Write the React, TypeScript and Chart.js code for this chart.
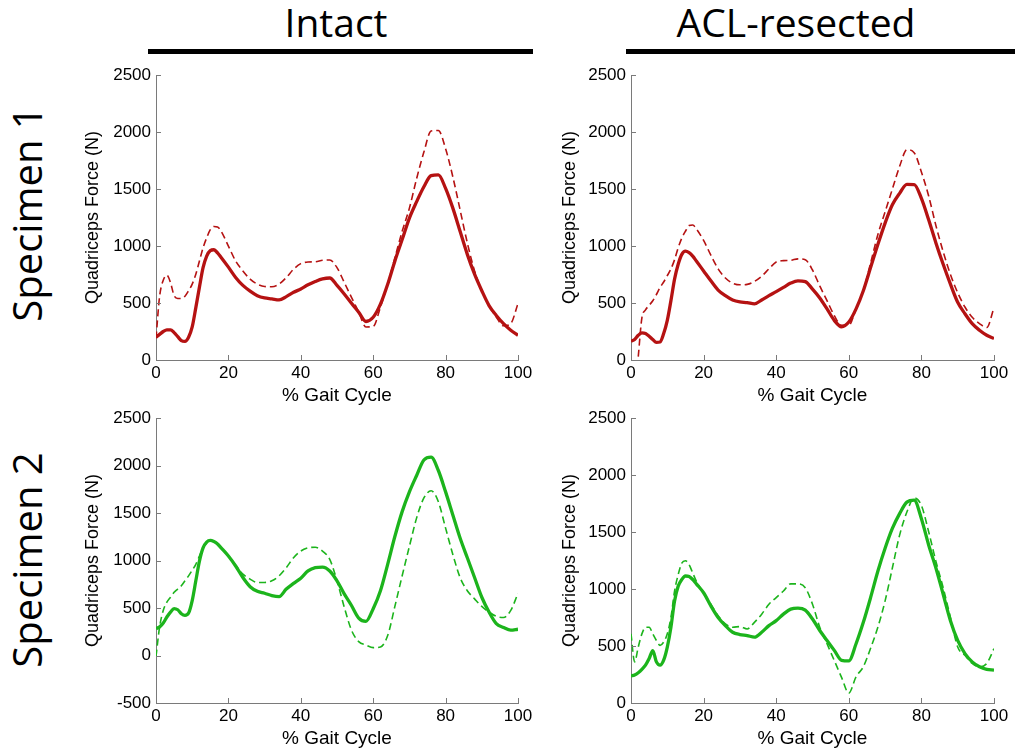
import React, { useEffect, useRef } from "react";
import { Chart, registerables } from "chart.js";

Chart.register(...registerables);

// % gait cycle sample positions (shared by all series)
const gaitPct = [0, 1, 2, 3, 4, 5, 6, 7, 8, 9, 10, 11, 12, 13, 14, 15, 16, 17, 18,
  20, 22, 24, 26, 28, 30, 32, 34, 36, 38, 40, 42, 44, 46, 48, 50, 52, 54, 56, 58,
  60, 62, 64, 66, 68, 70, 72, 74, 76, 78, 80, 82, 84, 86, 88, 90, 92, 94, 96, 98, 100];

const columnTitles = ["Intact", "ACL-resected"];
const rowTitles = ["Specimen 1", "Specimen 2"];
const xAxisTitle = "% Gait Cycle";
const yAxisTitle = "Quadriceps Force (N)";

// Specimen 1, intact (solid = measured, dashed = model)
const s1IntactSolid = [200, 225, 250, 265, 265, 240, 205, 170, 163, 200, 290, 460, 640, 810, 912, 960, 968, 940, 900,
  815, 725, 655, 605, 565, 545, 537, 528, 556, 594, 623, 660, 689, 712, 720, 655, 580, 498, 420, 338,
  375, 490, 665, 870, 1057, 1246, 1390, 1521, 1618, 1625, 1506, 1333, 1130, 927, 753, 608, 478, 391, 319, 261, 217];
const s1IntactDashed = [190, 560, 700, 745, 680, 565, 540, 540, 560, 608, 666, 753, 869, 985, 1072, 1144, 1172, 1168, 1130,
  1000, 869, 782, 710, 666, 645, 643, 666, 724, 797, 846, 860, 862, 875, 878, 811, 681, 550, 420, 290,
  295, 464, 666, 898, 1130, 1333, 1593, 1825, 2010, 2015, 1854, 1608, 1318, 1028, 782, 608, 478, 377, 300, 320, 495];

// Specimen 1, ACL-resected
const s1AclSolid = [165, 180, 217, 238, 232, 209, 180, 155, 158, 232, 348, 521, 710, 840, 927, 955, 942, 912, 869,
  782, 695, 614, 565, 527, 510, 504, 492, 527, 565, 600, 637, 675, 695, 688, 623, 545, 449, 348, 292,
  333, 449, 608, 811, 1014, 1202, 1362, 1463, 1541, 1540, 1419, 1231, 1028, 840, 666, 507, 406, 319, 261, 217, 188];
const s1AclDashed = [null, null, 30, 370, 440, 480, 520, 575, 637, 685, 740, 800, 880, 985, 1070, 1130, 1180, 1185, 1150,
  1050, 920, 800, 720, 675, 660, 664, 690, 735, 800, 860, 872, 875, 888, 880, 790, 650, 521, 390, 305,
  305, 450, 610, 850, 1100, 1300, 1500, 1700, 1845, 1820, 1650, 1440, 1180, 950, 750, 590, 465, 375, 320, 285, 460];

// Specimen 2, intact
const s2IntactSolid = [284, 302, 343, 406, 458, 495, 482, 440, 423, 447, 579, 787, 995, 1134, 1195, 1212, 1200, 1176, 1134,
  1048, 943, 822, 725, 676, 656, 631, 620, 700, 760, 815, 891, 926, 932, 891, 787, 649, 527, 395, 360,
  493, 683, 961, 1256, 1516, 1724, 1897, 2060, 2090, 1949, 1724, 1481, 1238, 1030, 822, 614, 458, 336, 295, 267, 277];
const s2IntactDashed = [-10, 302, 475, 562, 614, 666, 700, 735, 787, 839, 898, 961, 1048, 1134, 1186, 1210, 1200, 1170, 1130,
  1048, 950, 857, 805, 770, 770, 787, 839, 926, 1030, 1100, 1134, 1141, 1100, 1013, 787, 510, 267, 146, 111,
  83, 90, 210, 520, 840, 1150, 1450, 1660, 1735, 1620, 1342, 1065, 822, 683, 597, 517, 458, 413, 400, 475, 656];

// Specimen 2, ACL-resected
const s2AclSolid = [237, 246, 266, 295, 332, 390, 460, 361, 332, 376, 491, 665, 896, 1026, 1084, 1115, 1110, 1084, 1046,
  968, 853, 751, 679, 621, 601, 592, 578, 621, 679, 723, 780, 824, 832, 815, 737, 636, 549, 462, 375,
  370, 520, 708, 925, 1156, 1358, 1532, 1662, 1763, 1780, 1618, 1387, 1185, 954, 723, 549, 434, 361, 318, 295, 289];
const s2AclDashed = [607, 361, 491, 607, 665, 665, 607, 549, 506, 535, 607, 751, 983, 1127, 1228, 1249, 1214, 1142, 1069,
  968, 867, 766, 694, 665, 671, 650, 708, 780, 867, 925, 983, 1046, 1046, 1012, 867, 665, 520, 373, 225,
  87, 230, 318, 480, 665, 896, 1185, 1474, 1676, 1800, 1734, 1503, 1243, 1012, 751, 491, 419, 347, 318, 347, 477];

const RED = "#b51212";
const GREEN = "#1cb41c";
const AXIS = "#7a7a7a";
const TICK_FONT = "'Liberation Sans', Arial, sans-serif";
const BIG_FONT = "'Open Sans', 'Noto Sans', sans-serif";
const TICK_SIZE = 17;
const X_TITLE_SIZE = 19;
const Y_TITLE_SIZE = 18;

type Rect = { l: number; t: number; r: number; b: number };
type PanelDef = {
  solid: (number | null)[];
  dashed: (number | null)[];
  color: string;
  yMin: number;
  plot: Rect;
  yTitleCx: number;
};

const panels: PanelDef[] = [
  { solid: s1IntactSolid, dashed: s1IntactDashed, color: RED, yMin: 0, plot: { l: 156, t: 72, r: 518, b: 360 }, yTitleCx: 93 },
  { solid: s1AclSolid, dashed: s1AclDashed, color: RED, yMin: 0, plot: { l: 631, t: 72, r: 994, b: 360 }, yTitleCx: 570 },
  { solid: s2IntactSolid, dashed: s2IntactDashed, color: GREEN, yMin: -500, plot: { l: 156, t: 415, r: 518, b: 703 }, yTitleCx: 93 },
  { solid: s2AclSolid, dashed: s2AclDashed, color: GREEN, yMin: 0, plot: { l: 631, t: 415, r: 994, b: 703 }, yTitleCx: 570 },
];

const innerTicks = {
  id: "innerTicks",
  afterDatasetsDraw(chart: any) {
    const { ctx, chartArea, scales } = chart;
    const x = scales.x;
    const y = scales.y;
    ctx.save();
    ctx.strokeStyle = AXIS;
    ctx.lineWidth = 1;
    ctx.beginPath();
    x.ticks.forEach((t: any) => {
      const px = Math.round(x.getPixelForValue(t.value)) + 0.5;
      ctx.moveTo(px, chartArea.bottom);
      ctx.lineTo(px, chartArea.bottom - 5);
    });
    y.ticks.forEach((t: any) => {
      const py = Math.round(y.getPixelForValue(t.value)) + 0.5;
      ctx.moveTo(chartArea.left, py);
      ctx.lineTo(chartArea.left + 5, py);
    });
    ctx.stroke();
    ctx.restore();
  },
};

const PAD_TOP = 12;
const PAD_RIGHT = 18;
const X_AXIS_H = 47;

function Panel({ def }: { def: PanelDef }) {
  const ref = useRef<HTMLCanvasElement>(null);
  const titleLine = Y_TITLE_SIZE * 1.2;
  const left = Math.round(def.yTitleCx - titleLine / 2);
  const top = def.plot.t - PAD_TOP;
  const width = def.plot.r + PAD_RIGHT - left;
  const height = def.plot.b + X_AXIS_H - top;
  const yAxisW = def.plot.l - left;

  useEffect(() => {
    if (!ref.current) return;
    const toPts = (arr: (number | null)[]) => gaitPct.map((x, i) => ({ x, y: arr[i] }));
    const chart = new Chart(ref.current, {
      type: "line",
      data: {
        datasets: [
          {
            data: toPts(def.solid) as any,
            borderColor: def.color,
            borderWidth: 3.3,
            pointRadius: 0,
            cubicInterpolationMode: "monotone",
            fill: false,
          },
          {
            data: toPts(def.dashed) as any,
            borderColor: def.color,
            borderWidth: 1.6,
            borderDash: [7, 4],
            pointRadius: 0,
            cubicInterpolationMode: "monotone",
            fill: false,
            spanGaps: false,
          },
        ],
      },
      options: {
        animation: false,
        responsive: false,
        devicePixelRatio: 1,
        events: [],
        layout: { padding: { top: PAD_TOP, right: PAD_RIGHT, left: 0, bottom: 0 } },
        plugins: { legend: { display: false }, tooltip: { enabled: false } },
        scales: {
          x: {
            type: "linear",
            min: 0,
            max: 100,
            afterFit: (s: any) => { s.height = X_AXIS_H; },
            ticks: { stepSize: 20, color: "#000", padding: 3, font: { family: TICK_FONT, size: TICK_SIZE }, maxRotation: 0, callback: (v: any) => String(v) },
            grid: { display: false, drawTicks: false },
            border: { display: true, color: AXIS, width: 1 },
            title: { display: true, text: xAxisTitle, color: "#000", font: { family: TICK_FONT, size: X_TITLE_SIZE }, padding: { top: 0, bottom: 0 } },
          },
          y: {
            type: "linear",
            min: def.yMin,
            max: 2500,
            afterFit: (s: any) => { s.width = yAxisW; },
            ticks: { stepSize: 500, color: "#000", padding: 5, font: { family: TICK_FONT, size: TICK_SIZE }, callback: (v: any) => String(v) },
            grid: { display: false, drawTicks: false },
            border: { display: true, color: AXIS, width: 1 },
            title: { display: true, text: yAxisTitle, color: "#000", font: { family: TICK_FONT, size: Y_TITLE_SIZE }, padding: { top: 0, bottom: 0 } },
          },
        },
      },
      plugins: [innerTicks],
    });
    return () => chart.destroy();
  }, []);

  return (
    <canvas
      ref={ref}
      width={width}
      height={height}
      style={{ position: "absolute", left, top, width, height }}
    />
  );
}

export default function App() {
  const titleSize = 39;
  const rowSize = 40;
  return (
    <div style={{ position: "absolute", left: 0, top: 0, width: 1015, height: 752, background: "#fff", overflow: "hidden" }}>
      {/* column titles */}
      <div style={{ position: "absolute", left: 186, top: 2, width: 300, textAlign: "center", fontFamily: BIG_FONT, fontSize: titleSize, lineHeight: `${titleSize}px`, color: "#000" }}>
        {columnTitles[0]}
      </div>
      <div style={{ position: "absolute", left: 646, top: 2, width: 300, textAlign: "center", fontFamily: BIG_FONT, fontSize: titleSize, lineHeight: `${titleSize}px`, color: "#000" }}>
        {columnTitles[1]}
      </div>
      <div style={{ position: "absolute", left: 148, top: 49, width: 385, height: 5, background: "#000" }} />
      <div style={{ position: "absolute", left: 626, top: 49, width: 389, height: 5, background: "#000" }} />
      {/* row titles */}
      {rowTitles.map((t, i) => {
        const cy = i === 0 ? 214 : 560;
        const cx = 26.5;
        const w = 300;
        return (
          <div
            key={t}
            style={{
              position: "absolute",
              left: cx - w / 2,
              top: cy - rowSize / 2,
              width: w,
              height: rowSize,
              textAlign: "center",
              fontFamily: BIG_FONT,
              fontSize: rowSize,
              lineHeight: `${rowSize}px`,
              color: "#000",
              transform: "rotate(-90deg)",
              transformOrigin: "50% 50%",
              whiteSpace: "nowrap",
            }}
          >
            {t}
          </div>
        );
      })}
      {panels.map((p, i) => (
        <Panel key={i} def={p} />
      ))}
    </div>
  );
}
